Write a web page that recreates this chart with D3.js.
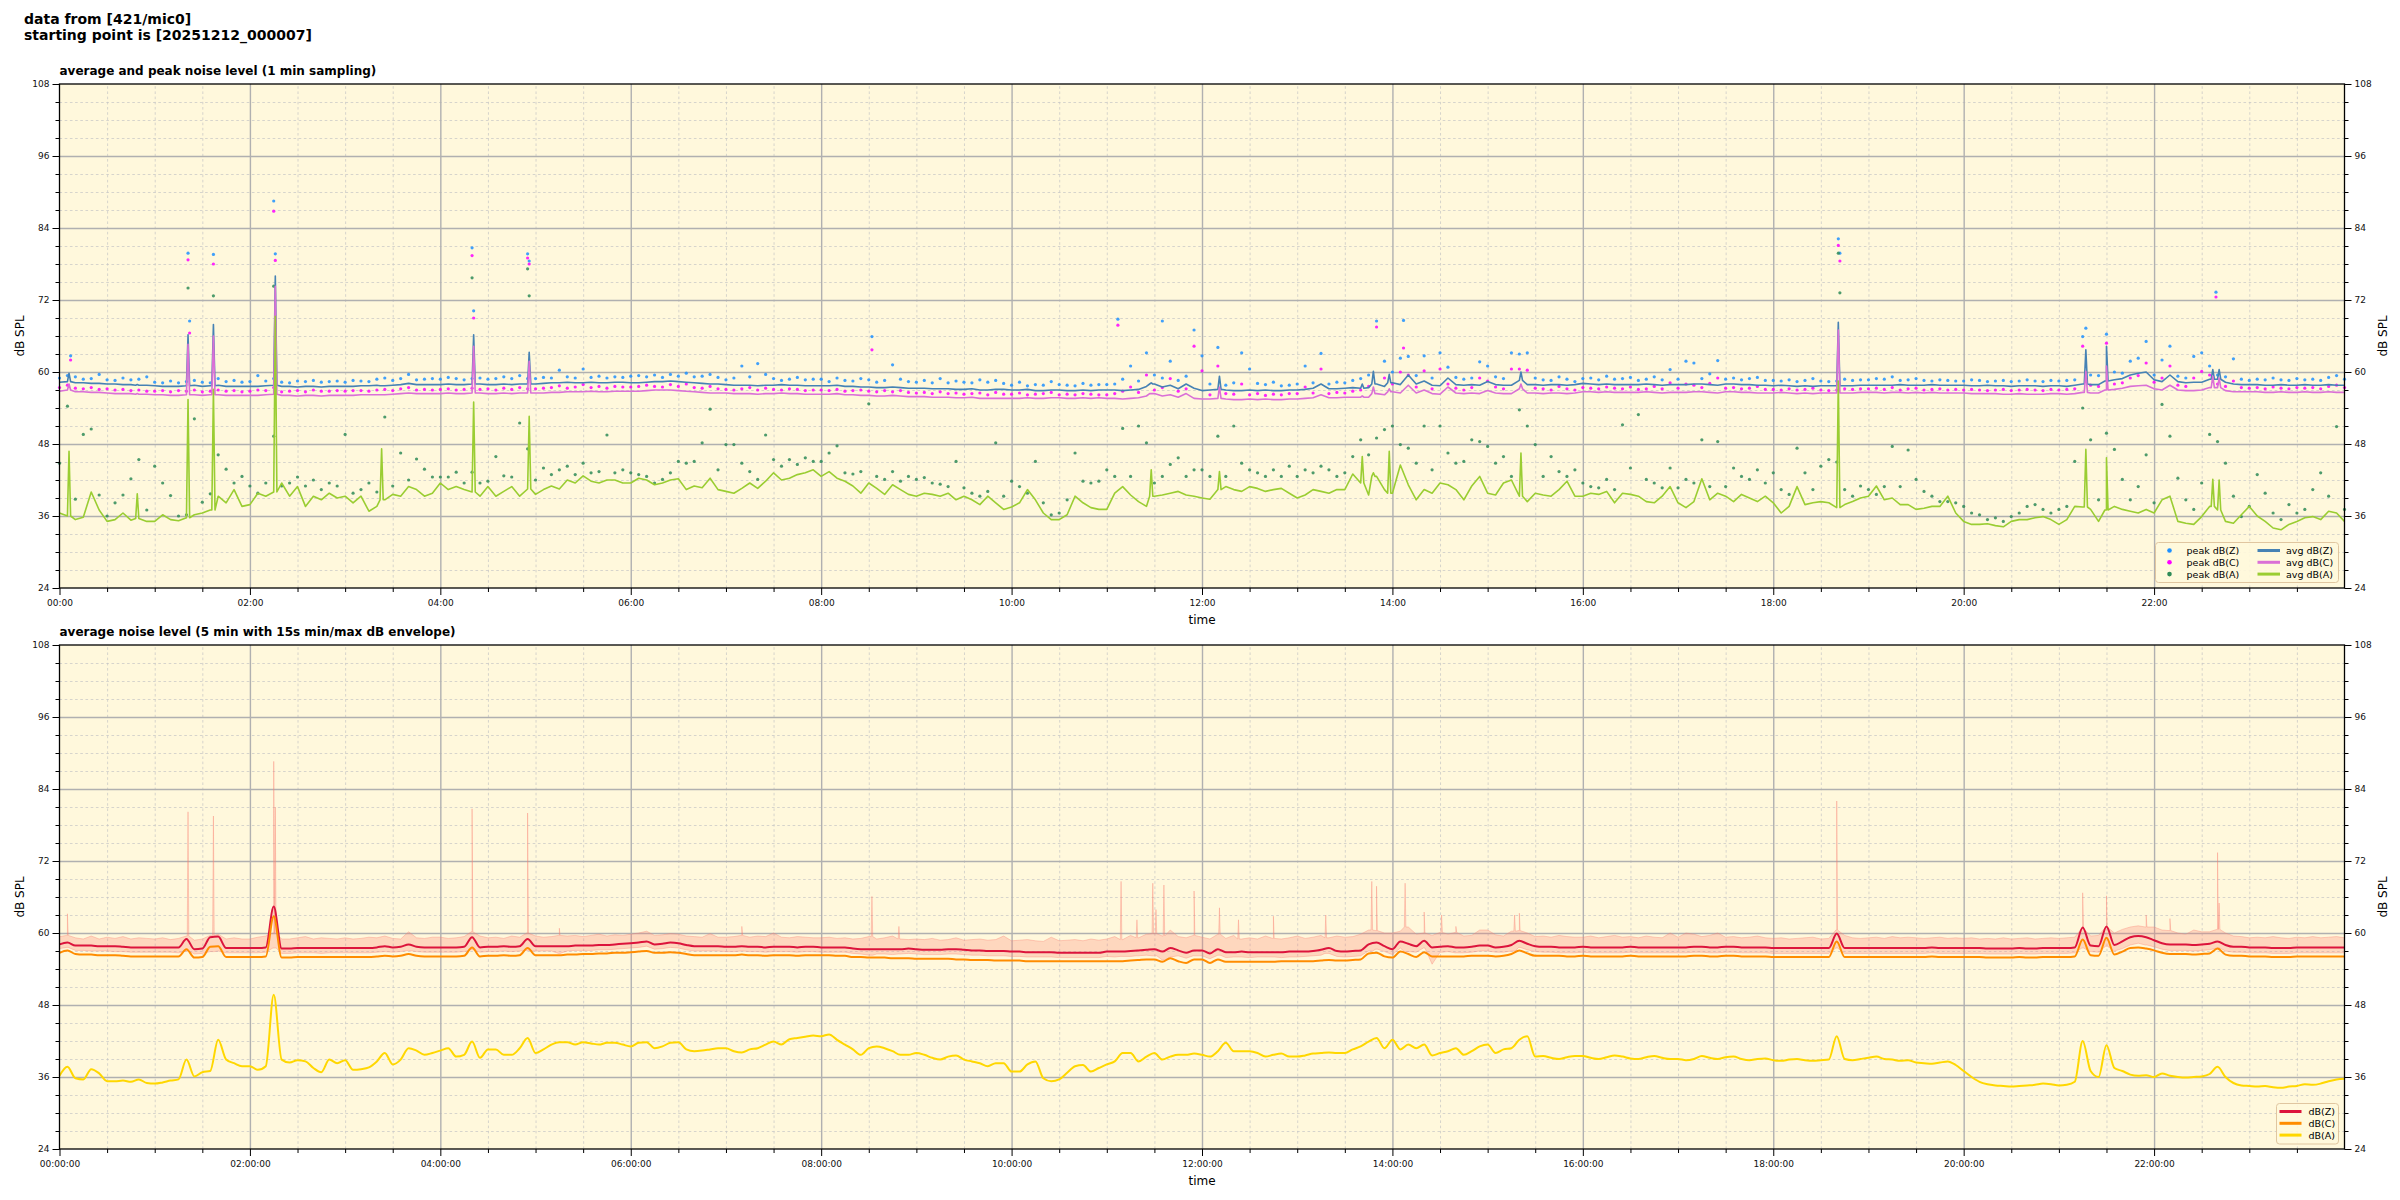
<!DOCTYPE html>
<html>
<head>
<meta charset="utf-8">
<script src="https://cdn.jsdelivr.net/npm/d3@7"></script>
<style>
body{margin:0;background:#fff}
text{font-family:"DejaVu Sans",sans-serif}
</style>
</head>
<body>
<svg id="fig" width="2400" height="1200"></svg>
<script>
// ---- top panel: 1 min data, kept here as 5 min readings (00:00 .. 24:00), one line per hour
var avgZ = [
58.3,58.4,58.2,58.2,58.1,58.1,58.0,58.0,57.9,57.9,57.8,57.8,
57.7,57.6,57.6,57.6,57.7,57.8,57.6,57.7,57.8,57.6,57.6,57.6,
57.6,57.6,57.7,57.8,57.6,57.6,57.5,57.6,57.6,57.5,57.6,57.6,
57.6,57.6,57.7,57.7,57.8,57.7,57.8,57.9,58.1,57.9,57.9,57.9,
57.9,58.0,57.9,57.9,58.0,58.0,57.9,57.9,58.0,57.9,58.0,58.0,
58.0,58.1,58.2,58.2,58.3,58.2,58.2,58.3,58.2,58.2,58.3,58.3,
58.2,58.2,58.3,58.4,58.4,58.5,58.4,58.3,58.2,58.1,58.0,58.0,
57.9,57.8,57.8,57.8,57.7,57.8,57.8,57.9,57.8,57.8,57.7,57.7,
57.7,57.7,57.8,57.6,57.6,57.5,57.5,57.4,57.4,57.5,57.4,57.3,
57.3,57.3,57.2,57.2,57.2,57.1,57.1,57.2,57.0,57.0,57.1,57.1,
57.0,57.0,57.1,56.9,56.9,57.0,57.0,56.9,56.9,57.0,56.9,57.0,
57.0,57.0,56.9,57.0,57.1,57.6,58.0,57.5,57.8,57.2,58.0,57.3,
56.9,57.0,57.1,57.0,56.9,56.9,57.0,56.9,57.0,56.9,56.9,57.0,
57.0,57.1,57.3,58.0,57.2,57.2,57.3,57.4,57.3,57.4,58.0,57.6,
58.2,57.9,59.5,58.0,58.5,57.8,57.7,59.0,57.9,57.8,57.9,57.8,
58.4,57.9,57.8,57.8,58.6,57.9,57.9,57.8,57.9,57.9,57.8,57.9,
58.1,58.0,57.9,58.0,57.9,57.9,57.9,57.9,58.0,57.9,57.8,57.9,
57.9,57.9,58.0,58.0,57.9,57.8,58.0,58.0,57.9,57.9,57.8,57.8,
57.7,57.8,57.7,57.6,57.7,57.6,57.7,57.7,57.7,57.7,57.7,57.8,
57.8,57.8,57.8,57.8,57.9,57.8,57.8,57.8,57.9,57.8,57.8,57.8,
57.8,57.7,57.7,57.8,57.7,57.7,57.6,57.7,57.7,57.7,57.6,57.7,
57.7,57.6,57.8,58.0,57.9,57.9,58.5,58.7,58.9,59.5,59.8,60.0,
58.7,58.4,59.5,58.4,58.2,58.3,58.3,58.8,58.8,58.3,58.0,57.9,
57.9,57.9,57.8,57.8,57.9,57.8,57.8,57.9,57.8,57.8,57.9,57.8,
57.8];

var avgC = [
56.8,57.0,56.7,56.7,56.6,56.6,56.5,56.4,56.4,56.4,56.3,56.3,
56.2,56.2,56.1,56.1,56.2,56.2,56.1,56.2,56.2,56.1,56.1,56.1,
56.1,56.1,56.2,56.3,56.1,56.1,56.0,56.1,56.1,56.0,56.1,56.1,
56.1,56.1,56.2,56.2,56.2,56.2,56.3,56.4,56.5,56.4,56.4,56.4,
56.4,56.5,56.4,56.4,56.5,56.5,56.4,56.4,56.5,56.4,56.5,56.5,
56.5,56.5,56.6,56.6,56.7,56.7,56.7,56.8,56.7,56.7,56.8,56.8,
56.8,56.8,56.9,57.0,57.0,57.0,56.9,56.8,56.7,56.6,56.5,56.5,
56.5,56.4,56.4,56.4,56.3,56.4,56.4,56.5,56.4,56.4,56.3,56.3,
56.3,56.3,56.4,56.2,56.2,56.1,56.1,56.0,56.0,56.1,56.0,55.9,
55.9,55.9,55.8,55.8,55.8,55.7,55.7,55.8,55.6,55.6,55.6,55.6,
55.6,55.6,55.7,55.6,55.6,55.7,55.7,55.6,55.6,55.7,55.6,55.7,
55.6,55.6,55.5,55.6,55.7,56.0,56.4,56.0,56.2,55.8,56.4,55.6,
55.5,55.5,55.6,55.5,55.4,55.4,55.5,55.4,55.5,55.4,55.4,55.5,
55.5,55.6,55.7,56.2,55.7,55.7,55.8,55.8,55.8,55.8,56.4,56.2,
56.7,56.5,57.8,56.5,57.0,56.4,56.3,57.5,56.5,56.4,56.5,56.4,
56.9,56.5,56.4,56.4,57.2,56.5,56.5,56.4,56.5,56.5,56.4,56.5,
56.7,56.7,56.6,56.7,56.6,56.6,56.6,56.6,56.7,56.6,56.5,56.6,
56.6,56.6,56.7,56.7,56.6,56.5,56.7,56.7,56.6,56.6,56.5,56.5,
56.5,56.6,56.5,56.4,56.5,56.4,56.5,56.5,56.5,56.5,56.5,56.6,
56.6,56.6,56.5,56.6,56.6,56.5,56.6,56.5,56.6,56.5,56.5,56.5,
56.5,56.4,56.4,56.4,56.4,56.3,56.3,56.4,56.3,56.3,56.3,56.4,
56.4,56.3,56.4,56.6,56.5,56.5,57.0,57.1,57.3,57.6,57.7,57.8,
57.2,57.0,57.8,57.0,56.9,56.9,57.0,57.4,57.4,56.9,56.7,56.7,
56.7,56.7,56.6,56.6,56.7,56.6,56.6,56.7,56.6,56.6,56.7,56.6,
56.6];

var avgA = [
36.5,36.0,35.4,35.8,40.0,37.0,35.1,35.4,36.5,35.3,35.6,35.1,
35.1,36.2,35.4,35.2,35.7,36.2,36.5,37.0,39.3,38.2,40.4,37.6,
37.9,39.8,39.3,40.0,41.5,39.3,40.9,37.6,39.3,38.7,39.8,39.0,
39.3,38.2,39.3,36.8,37.6,38.7,39.6,39.3,40.9,40.4,39.3,39.8,
41.5,40.4,40.9,40.4,40.0,39.3,40.9,39.3,40.1,40.9,39.3,40.5,
39.6,40.4,41.0,40.5,42.0,41.5,42.7,41.8,41.5,42.0,42.0,41.5,
41.5,42.3,42.0,41.2,41.5,42.0,42.2,40.4,41.0,40.7,42.3,40.4,
40.1,39.8,40.6,41.5,40.6,41.8,43.2,42.0,42.3,42.9,43.2,43.7,
42.6,43.4,42.3,41.8,41.0,39.8,41.5,40.6,39.6,41.2,40.4,39.6,
39.3,39.8,39.6,39.3,39.8,38.7,39.3,38.7,37.9,39.3,38.2,37.1,
37.5,38.2,40.4,38.7,36.5,35.4,35.4,36.2,39.3,38.2,37.4,37.1,
37.1,39.8,40.9,39.5,38.4,37.6,39.3,39.5,39.8,40.1,39.5,39.3,
39.0,38.8,40.4,40.9,40.4,40.1,40.9,40.6,40.1,40.4,40.6,39.8,
39.0,39.5,40.4,40.1,39.8,40.4,40.4,43.0,41.5,39.5,42.6,40.4,
39.8,44.5,41.2,38.7,40.4,39.8,41.5,41.2,40.4,38.7,41.0,42.6,
39.8,39.5,41.5,42.0,39.3,38.4,39.8,39.5,39.3,40.4,41.8,39.3,
39.3,39.8,39.6,40.1,38.2,39.8,39.6,39.3,38.4,38.2,39.3,40.9,
38.2,37.4,38.4,42.2,38.7,39.8,39.3,38.4,39.6,39.0,38.4,39.3,
38.2,36.5,37.6,40.9,37.9,38.2,38.4,38.2,37.4,37.9,38.4,39.0,
39.3,41.0,38.7,39.0,37.9,37.9,37.1,37.3,37.6,37.6,39.3,36.5,
35.1,34.6,34.6,34.7,34.4,34.2,35.1,35.4,35.4,35.7,35.9,35.4,
34.6,35.4,37.6,37.5,37.1,35.1,37.0,37.6,37.1,36.8,36.5,37.1,
36.5,38.7,39.3,35.1,34.8,34.6,35.9,37.6,37.0,35.1,34.8,36.2,
37.6,36.0,35.1,34.0,33.7,34.6,35.1,35.7,35.9,35.4,36.8,36.5,
35.1];

// one-minute spikes of the average lines
var spikeAt = ["00:06","00:49","01:21","01:37","02:16","03:23","04:21","04:56","11:28","12:11","13:41","13:48","13:58","15:21","18:41","21:17","21:30","22:37","22:41"];
var spikeZ  = [59.8,57.9,66.2,67.9,76.0,57.7,66.2,63.3,58.2,59.3,58.0,60.1,59.6,60.0,68.3,63.7,64.3,60.4,60.4];
var spikeC  = [58.0,56.4,64.6,66.0,74.3,56.2,64.3,61.8,56.4,57.5,56.0,57.5,57.2,58.0,67.0,60.1,61.0,59.3,59.0];
var spikeA  = [46.8,39.7,55.4,57.1,69.3,47.2,55.0,52.6,43.7,43.4,45.9,43.2,46.8,46.5,58.5,47.1,45.7,42.1,42.0];

var peakZ = [
59.0,59.4,59.2,58.8,58.9,59.6,58.7,58.6,59.0,58.7,58.8,59.2,
58.3,58.2,58.5,58.2,58.4,58.6,58.3,58.2,58.9,58.4,58.6,58.3,
58.4,59.4,58.5,58.9,58.3,58.2,58.5,58.4,58.6,58.3,58.4,58.5,
58.3,58.6,58.5,58.4,58.8,59.0,58.6,58.9,59.6,58.7,58.8,58.9,
58.8,59.1,58.9,58.7,58.9,59.0,58.8,58.9,59.2,58.9,59.4,58.9,
58.9,59.1,59.0,60.3,59.2,59.0,60.5,59.1,59.3,59.0,59.2,59.1,
59.3,59.4,59.2,59.5,59.1,59.6,59.3,59.8,59.2,59.3,59.6,59.1,
58.7,59.0,61.0,59.2,61.4,59.6,58.9,58.6,58.8,59.1,58.7,58.8,
58.8,58.4,59.0,58.6,58.5,58.9,58.7,58.3,58.6,61.2,58.8,58.4,
58.3,58.6,58.2,58.9,58.2,58.5,58.3,58.2,58.7,58.3,58.6,58.1,
57.8,58.3,57.7,57.9,57.8,58.4,57.9,57.8,57.7,58.1,57.8,57.9,
57.9,58.0,58.8,61.0,58.5,63.2,59.5,59.0,61.8,58.6,59.3,67.0,
62.7,58.0,64.1,57.8,58.2,63.2,60.5,58.1,57.9,58.3,57.7,57.8,
58.0,61.0,58.2,63.1,58.0,58.3,58.2,58.6,58.9,59.5,68.5,61.8,
60.0,62.3,62.6,59.4,62.7,59.0,63.2,60.8,59.1,58.8,59.0,61.7,
61.0,59.2,58.9,63.2,63.0,63.2,59.0,58.7,58.6,59.2,58.8,58.4,
58.9,59.0,58.7,59.3,58.8,58.9,59.1,58.6,58.8,59.2,58.7,60.4,
58.8,61.8,61.5,58.9,59.7,61.9,58.8,59.0,58.7,58.9,59.1,58.6,
58.6,58.5,58.7,58.4,58.6,58.9,58.5,58.4,58.5,58.8,58.6,58.7,
58.7,58.9,58.8,59.2,58.6,58.7,58.9,58.6,58.5,58.7,58.6,58.5,
58.5,58.7,58.6,58.4,58.5,58.6,58.4,58.5,58.7,58.5,58.4,58.6,
58.5,58.6,58.7,65.9,59.5,59.4,66.3,60.0,59.8,61.8,62.3,65.1,
59.5,62.0,64.3,59.3,59.0,62.6,63.2,61.0,59.5,59.2,62.2,58.8,
58.6,58.8,58.7,59.0,58.7,58.6,58.9,58.7,58.8,58.6,59.1,59.4,
58.8];

var peakC = [
57.4,57.8,57.3,57.2,57.4,57.1,57.2,57.0,57.1,56.9,57.0,56.8,
56.8,56.9,56.7,56.9,56.8,57.0,56.7,56.8,57.0,56.8,56.9,56.7,
56.8,57.0,56.9,57.4,56.7,56.8,56.9,56.7,57.0,56.8,56.8,56.9,
56.8,56.9,56.9,56.8,57.0,57.1,56.9,57.2,57.4,57.0,57.1,57.0,
57.1,57.2,57.0,57.1,57.3,57.1,57.2,57.0,57.3,57.1,57.4,57.2,
57.2,57.3,57.4,57.7,57.3,57.5,57.9,57.4,57.6,57.3,57.6,57.5,
57.5,57.6,57.8,57.6,57.5,57.9,57.6,58.0,57.4,57.3,57.6,57.2,
57.1,57.0,57.2,57.4,57.0,57.3,57.1,57.0,57.2,57.1,56.9,57.0,
57.0,56.9,57.1,56.8,56.9,57.0,56.8,56.7,56.9,56.7,56.9,56.6,
56.5,56.6,56.4,56.7,56.4,56.5,56.3,56.4,56.5,56.2,56.6,56.3,
56.3,56.5,56.2,56.3,56.4,56.6,56.2,56.3,56.2,56.4,56.3,56.2,
56.2,56.4,56.8,57.5,56.6,59.5,57.0,57.4,58.9,56.8,57.2,64.3,
60.2,56.2,61.0,56.4,56.3,58.0,56.2,56.4,56.1,56.3,56.2,56.4,
56.4,57.5,56.5,60.5,56.4,56.6,56.5,56.8,57.0,57.6,67.5,59.0,
58.0,60.0,59.5,57.5,60.2,57.2,60.5,58.0,57.3,57.0,57.4,59.0,
58.5,57.5,57.2,60.5,60.5,60.3,57.3,57.2,57.0,57.6,57.2,57.0,
57.4,57.3,57.2,57.5,57.3,57.2,57.5,57.1,57.2,57.6,57.2,58.2,
57.3,58.0,57.8,57.4,58.1,59.0,57.3,57.4,57.2,57.3,57.6,57.1,
57.1,57.0,57.2,57.0,57.1,57.3,57.0,56.9,57.0,57.2,57.1,57.2,
57.2,57.3,57.1,57.4,57.0,57.2,57.3,57.0,57.1,57.2,57.0,57.1,
57.0,57.1,57.0,56.9,57.0,57.1,56.9,57.0,57.1,57.0,56.9,57.1,
57.0,57.1,57.2,64.3,57.8,57.6,64.8,58.0,58.2,59.0,59.4,61.5,
58.3,59.0,61.0,57.8,57.6,59.0,60.1,59.5,58.0,57.6,58.5,57.4,
57.3,57.4,57.2,57.5,57.3,57.2,57.4,57.3,57.4,57.2,57.6,57.8,
57.4];

var peakA = [
44.8,54.3,38.8,49.6,50.5,39.5,36.0,38.2,39.5,42.2,45.4,37.0,
44.3,41.5,39.4,36.0,36.2,52.2,38.3,39.7,46.2,43.8,41.5,42.6,
41.0,39.8,41.5,49.3,41.0,41.5,42.5,41.0,42.0,40.4,41.5,41.0,
49.6,39.8,40.4,41.5,40.0,52.5,41.0,46.5,42.0,45.5,43.8,42.5,
42.5,42.5,43.3,41.5,43.3,41.5,41.8,45.9,42.7,42.5,51.5,47.2,
42.0,44.0,42.9,43.7,44.3,42.9,44.8,43.2,43.4,49.5,43.2,43.7,
43.2,42.9,42.6,41.5,42.1,43.2,45.1,44.8,45.1,48.2,53.8,43.7,
47.9,47.9,44.8,43.4,42.1,49.5,45.4,44.3,45.4,44.6,45.7,45.1,
45.1,46.5,47.7,43.2,43.0,43.4,54.7,42.6,42.1,43.4,41.8,42.6,
42.1,42.4,41.5,41.3,40.9,45.1,40.7,39.8,39.3,40.1,48.2,39.3,
41.8,40.9,39.8,45.1,38.2,36.2,36.5,38.7,46.5,41.8,41.5,41.8,
43.7,42.6,50.6,42.6,51.0,48.2,41.5,42.6,44.6,45.7,42.6,43.7,
43.7,42.6,49.3,42.6,51.0,44.8,43.7,43.2,42.6,43.7,42.6,44.3,
42.6,43.7,43.2,44.3,43.7,42.6,43.2,45.9,48.7,46.2,49.0,50.4,
51.0,47.9,47.3,44.8,51.0,43.7,51.0,46.5,44.8,45.1,48.7,48.4,
47.6,44.8,45.9,42.6,53.7,51.0,47.9,42.6,45.9,43.4,42.6,43.7,
41.5,40.9,40.7,42.1,40.4,51.2,44.0,52.9,42.1,41.5,40.7,44.0,
40.7,42.1,41.5,48.7,40.9,48.4,40.9,44.0,42.6,42.1,43.7,41.5,
43.2,40.4,39.6,47.3,43.2,40.4,44.3,45.4,45.0,40.4,39.3,41.0,
40.4,39.6,40.9,47.6,40.9,47.0,42.1,40.1,39.3,38.4,38.4,38.2,
37.6,36.5,36.2,35.4,35.7,35.1,35.9,36.5,37.6,37.9,37.1,36.5,
37.1,37.6,45.1,54.0,48.7,38.7,49.8,47.1,42.1,38.7,40.9,46.2,
38.2,54.6,49.3,42.3,38.7,37.1,41.5,49.6,48.4,44.8,39.3,35.9,
37.6,42.9,39.8,36.5,35.4,37.9,36.5,37.1,40.4,43.2,39.3,50.9,
37.1];

// single loud minutes of the peak readings (null = no separate dot)
var outAt = ["00:07","01:21","01:22","01:37","02:15","02:16","04:20","04:21","04:55","04:56","08:32","11:07","11:35","14:07","18:41","18:42","21:17","22:39"];
var outZ  = [62.7,79.8,68.5,79.6,88.5,79.7,80.7,70.2,79.7,78.5,65.9,68.8,68.5,68.6,82.2,79.8,67.3,73.3];
var outC  = [62.0,78.7,66.5,78.0,86.8,78.6,79.4,69.0,79.0,78.0,63.7,67.8,null,64.0,81.1,78.5,null,72.5];
var outA  = [null,74.0,null,72.7,74.3,61.0,75.7,null,77.2,72.7,null,null,null,null,79.8,73.2,null,null];

// ---- bottom panel: 5 min averages with 15 s min/max envelope
var lvlZ = [
58.1,58.4,57.9,57.9,57.9,57.8,57.8,57.8,57.7,57.6,57.6,57.6,
57.6,57.6,57.6,57.6,59.0,57.3,57.4,59.3,59.4,57.5,57.5,57.5,
57.5,57.5,57.6,64.4,57.4,57.4,57.5,57.5,57.5,57.5,57.5,57.5,
57.5,57.5,57.5,57.5,57.6,57.8,57.6,57.7,58.1,57.7,57.6,57.6,
57.6,57.6,57.6,57.7,59.3,57.6,57.7,57.7,57.8,57.7,57.8,59.0,
57.8,57.8,57.8,57.8,57.8,57.9,57.9,57.9,58.0,58.0,58.1,58.2,
58.3,58.4,58.6,58.1,58.2,58.4,58.3,58.0,57.8,57.8,57.8,57.8,
57.7,57.7,57.8,57.7,57.7,57.6,57.7,57.7,57.7,57.6,57.7,57.7,
57.6,57.6,57.6,57.6,57.4,57.3,57.3,57.3,57.3,57.3,57.3,57.4,
57.3,57.2,57.2,57.2,57.3,57.3,57.2,57.1,57.1,57.0,57.0,57.0,
56.9,56.9,56.8,56.8,56.8,56.8,56.7,56.7,56.7,56.7,56.7,56.7,
56.9,56.9,56.9,57.0,57.1,57.2,57.3,56.9,57.5,57.1,56.7,57.1,
57.1,56.6,57.3,56.8,56.8,56.9,56.8,56.8,56.8,56.8,56.8,56.9,
56.9,56.9,57.0,57.2,57.5,57.0,56.9,57.0,57.1,58.1,58.4,57.8,
57.3,58.6,58.2,57.8,58.7,57.6,57.7,57.8,57.6,57.6,57.7,57.9,
57.9,57.6,57.7,58.0,58.7,58.2,57.8,57.7,57.7,57.6,57.6,57.6,
57.7,57.6,57.6,57.6,57.6,57.6,57.7,57.6,57.6,57.6,57.6,57.6,
57.6,57.6,57.7,57.7,57.6,57.6,57.7,57.7,57.6,57.6,57.6,57.6,
57.5,57.5,57.5,57.5,57.5,57.5,57.5,57.5,59.9,57.5,57.5,57.5,
57.5,57.5,57.5,57.5,57.5,57.5,57.5,57.5,57.6,57.5,57.5,57.5,
57.5,57.5,57.5,57.4,57.4,57.4,57.4,57.5,57.4,57.4,57.5,57.5,
57.5,57.5,57.6,60.9,57.9,57.8,61.1,58.0,58.6,59.3,59.5,59.3,
58.8,58.3,58.1,58.1,58.1,58.0,58.1,58.2,58.6,58.0,57.7,57.7,
57.6,57.6,57.6,57.5,57.5,57.5,57.6,57.6,57.6,57.6,57.6,57.6,
57.6];

var lvlC = [
56.7,57.1,56.5,56.4,56.4,56.3,56.3,56.3,56.2,56.1,56.1,56.1,
56.1,56.1,56.1,56.1,57.3,55.9,56.0,57.7,57.8,56.0,56.0,56.0,
56.0,56.0,56.1,62.8,55.9,55.9,56.0,56.0,56.0,56.0,56.0,56.0,
56.0,56.0,56.0,56.0,56.1,56.2,56.1,56.2,56.5,56.2,56.1,56.1,
56.1,56.1,56.1,56.2,57.6,56.1,56.2,56.2,56.3,56.2,56.3,57.5,
56.3,56.3,56.3,56.3,56.4,56.4,56.5,56.5,56.6,56.6,56.7,56.7,
56.8,56.9,57.0,56.7,56.7,56.8,56.7,56.5,56.3,56.3,56.3,56.3,
56.3,56.3,56.4,56.3,56.3,56.2,56.3,56.3,56.3,56.2,56.3,56.3,
56.3,56.3,56.2,56.2,56.0,56.0,55.9,55.9,55.9,55.8,55.8,55.8,
55.7,55.7,55.7,55.7,55.7,55.6,55.6,55.5,55.5,55.5,55.4,55.4,
55.4,55.4,55.3,55.3,55.3,55.3,55.3,55.3,55.3,55.3,55.3,55.3,
55.3,55.3,55.3,55.4,55.5,55.6,55.6,55.2,55.8,55.3,55.0,55.6,
55.6,55.0,55.6,55.2,55.2,55.2,55.2,55.2,55.2,55.2,55.3,55.3,
55.3,55.3,55.3,55.4,55.5,55.4,55.4,55.5,55.6,56.6,56.7,56.1,
55.9,56.9,56.5,56.0,56.8,56.1,56.1,56.1,56.1,56.1,56.2,56.2,
56.2,56.1,56.2,56.5,57.1,56.6,56.2,56.2,56.2,56.2,56.1,56.1,
56.2,56.1,56.1,56.1,56.1,56.1,56.2,56.1,56.1,56.1,56.1,56.1,
56.1,56.1,56.2,56.2,56.1,56.1,56.2,56.2,56.1,56.1,56.1,56.1,
56.0,56.0,56.0,56.0,56.0,56.0,56.0,56.0,58.6,56.0,56.0,56.0,
56.0,56.0,56.0,56.0,56.0,56.0,56.0,56.0,56.1,56.0,56.0,56.0,
56.0,56.0,56.0,55.9,55.9,55.9,55.9,56.0,55.9,55.9,56.0,56.0,
56.0,56.0,56.1,58.9,56.3,56.2,59.2,56.4,56.9,57.5,57.6,57.4,
57.1,56.7,56.5,56.5,56.5,56.4,56.5,56.6,57.4,56.4,56.2,56.2,
56.1,56.1,56.1,56.0,56.0,56.0,56.1,56.1,56.1,56.1,56.1,56.1,
56.1];

var lvlA = [
36.2,37.7,35.8,35.6,37.3,36.6,35.3,35.3,35.4,35.2,35.6,35.0,
34.9,35.1,35.4,35.6,38.9,36.1,36.8,37.0,42.2,38.9,38.3,37.8,
37.8,37.2,37.8,49.7,38.9,38.4,38.8,38.6,37.5,36.8,38.9,38.3,
38.8,37.2,37.3,37.6,38.6,40.0,38.1,38.9,40.8,40.4,39.7,40.0,
40.4,40.8,39.4,39.7,41.9,39.2,40.6,40.6,39.7,39.7,40.8,42.5,
40.0,40.6,41.4,41.8,41.8,41.4,41.8,41.6,41.4,41.7,41.7,41.4,
41.1,41.7,41.8,40.8,41.1,41.7,41.8,40.6,40.3,40.4,40.6,40.8,
40.8,40.3,40.1,40.6,40.8,41.4,41.9,41.4,42.3,42.5,42.7,42.9,
42.8,43.1,42.2,41.4,40.6,39.7,40.8,41.1,40.8,40.3,39.7,39.7,
40.0,39.7,39.2,38.9,39.4,39.6,38.9,38.6,38.3,37.8,38.3,38.3,
36.9,36.9,38.1,38.6,35.8,35.3,35.6,36.7,37.8,38.0,36.9,37.5,
38.1,38.6,40.0,40.0,38.6,39.4,40.0,38.9,39.4,39.7,39.7,39.9,
39.7,39.4,40.3,41.7,40.3,40.3,40.3,40.0,39.4,39.7,39.9,39.4,
39.4,39.6,39.9,40.0,40.1,40.0,40.0,40.6,41.1,41.9,42.5,40.8,
42.2,40.6,41.4,40.8,41.4,39.6,40.0,40.3,40.8,39.7,40.3,41.1,
41.4,40.0,40.6,40.8,42.2,42.8,39.4,39.5,39.2,39.0,39.3,39.5,
39.5,39.2,39.0,39.3,39.6,39.4,39.1,39.0,39.3,39.5,39.2,39.0,
39.0,38.8,39.0,39.5,39.2,39.0,39.3,39.4,39.0,38.8,39.0,39.1,
38.8,38.7,38.9,39.0,38.8,38.7,38.8,38.9,42.8,39.0,38.8,39.0,
39.2,39.4,39.0,38.9,38.7,38.8,38.4,38.3,38.2,38.4,38.6,38.0,
37.0,36.0,35.2,34.8,34.6,34.5,34.4,34.5,34.6,34.7,34.9,34.8,
34.6,34.7,35.2,42.0,37.0,36.0,41.3,37.5,37.0,36.4,36.2,36.3,
36.0,36.6,36.2,36.0,35.9,36.0,36.1,36.5,37.7,36.0,35.0,34.6,
34.5,34.4,34.5,34.3,34.2,34.4,34.5,34.8,34.7,34.9,35.3,35.6,
35.7];

// 15 s envelope: upper / lower edge per 5 min, plus the short loud bursts
var envHi = [
59.4,59.6,59.2,59.0,59.5,59.0,59.3,59.1,59.4,59.0,59.2,59.1,
59.0,59.2,58.9,59.1,59.5,58.8,59.0,59.6,59.8,59.0,59.2,59.0,
59.0,59.3,59.5,60.0,59.0,59.0,59.2,59.4,59.0,59.2,59.1,59.0,
59.2,59.0,59.1,59.3,59.2,59.5,59.1,59.0,60.2,59.2,59.1,59.3,
59.3,59.1,59.2,59.4,60.2,59.5,59.2,59.3,59.1,59.5,59.3,60.0,
59.5,59.3,59.4,59.6,59.5,59.6,59.4,59.6,59.8,59.5,59.7,59.6,
59.8,60.0,60.3,59.6,59.7,59.9,59.8,59.5,59.4,59.3,59.9,59.3,
59.3,59.4,59.6,59.3,59.5,59.4,60.0,59.3,59.2,59.4,59.3,59.2,
59.2,59.3,59.1,59.2,59.0,59.1,59.4,59.0,59.2,59.5,59.0,58.9,
59.0,58.9,59.1,58.8,58.9,59.2,58.8,58.9,59.0,58.8,58.9,59.5,
58.7,58.8,58.9,58.7,58.6,59.3,58.7,58.8,58.9,58.7,59.0,58.8,
59.0,59.4,58.9,59.6,59.2,59.8,59.9,59.5,60.5,59.4,59.2,59.6,
59.3,59.0,59.8,59.1,59.6,59.0,59.2,59.0,59.5,59.1,59.0,59.2,
59.5,59.1,59.3,59.6,59.2,59.5,59.3,59.4,59.8,60.5,60.4,60.0,
60.0,60.3,61.0,59.8,60.0,59.6,60.1,59.8,60.1,59.5,59.6,60.5,
60.5,59.7,59.5,60.3,60.4,60.0,59.4,59.5,59.3,59.6,59.4,59.3,
59.3,59.5,59.2,59.4,59.6,59.3,59.4,59.2,59.5,59.3,59.2,60.0,
59.3,60.0,59.8,59.4,59.6,60.0,59.3,59.4,59.2,59.3,59.5,59.2,
59.1,59.2,59.0,59.1,59.2,59.3,59.0,59.1,60.5,59.6,59.2,59.1,
59.2,59.3,59.1,59.4,59.2,59.3,59.2,59.1,59.2,59.3,59.1,59.2,
59.1,59.2,59.0,59.1,59.0,59.2,59.0,59.1,59.2,59.0,59.1,59.2,
59.1,59.2,59.3,60.8,59.5,59.6,61.0,60.0,60.6,61.0,61.2,61.0,
61.0,60.5,60.4,60.0,59.8,60.5,60.2,60.2,60.6,60.0,59.5,59.4,
59.2,59.3,59.2,59.4,59.2,59.1,59.3,59.2,59.4,59.2,59.3,59.4,
59.2];

var envLo = [
57.4,57.6,57.1,57.1,57.0,57.0,57.0,56.9,56.9,56.8,56.8,56.8,
56.8,56.8,56.8,56.7,57.0,56.5,56.6,56.9,57.0,56.7,56.7,56.7,
56.7,56.7,56.8,57.5,56.6,56.6,56.7,56.7,56.7,56.6,56.7,56.7,
56.7,56.7,56.7,56.7,56.8,56.9,56.8,56.9,57.1,56.9,56.8,56.8,
56.8,56.8,56.8,56.9,57.2,56.8,56.9,56.9,57.0,56.9,57.0,57.1,
57.0,57.0,57.0,56.6,57.0,57.1,57.1,57.1,57.2,57.2,57.3,57.4,
57.5,57.6,57.8,57.3,57.4,57.6,57.5,57.2,57.0,57.0,57.0,57.0,
56.9,56.9,57.0,56.9,56.9,56.8,56.9,56.9,56.9,56.8,56.9,56.9,
56.8,56.8,56.8,56.8,56.6,56.5,56.3,56.5,56.5,56.4,56.5,56.6,
56.5,56.4,56.4,56.4,56.5,56.5,56.4,56.3,56.3,56.2,56.2,56.2,
56.1,56.1,56.0,56.0,56.0,56.0,55.9,55.9,55.9,55.9,55.9,55.9,
56.1,56.0,56.1,56.1,56.2,56.3,56.2,55.5,56.0,56.2,55.8,56.2,
56.2,55.7,56.3,55.9,56.0,56.0,55.9,56.0,56.0,56.0,55.9,56.0,
56.0,56.1,56.2,56.3,56.6,56.1,56.0,56.1,56.2,57.0,57.3,56.9,
56.4,57.5,56.9,56.8,57.5,54.8,56.8,56.9,56.7,56.7,56.8,57.0,
57.0,56.8,56.8,57.0,57.6,57.2,56.9,56.8,56.8,56.7,56.7,56.7,
56.8,56.7,56.7,56.7,56.7,56.7,56.8,56.7,56.7,56.7,56.7,56.7,
56.7,56.7,56.8,56.8,56.7,56.7,56.8,56.8,56.7,56.7,56.7,56.7,
56.6,56.6,56.6,56.6,56.6,56.6,56.6,56.6,57.5,56.6,56.6,56.6,
56.6,56.6,56.6,56.6,56.6,56.6,56.6,56.6,56.7,56.6,56.6,56.6,
56.6,56.6,56.6,56.5,56.5,56.5,56.5,56.6,56.5,56.5,56.6,56.6,
56.6,56.6,56.7,57.5,56.9,56.8,57.8,57.0,57.4,58.0,58.3,58.0,
57.7,57.3,57.1,57.1,57.1,57.0,57.1,57.2,57.5,57.0,56.8,56.8,
56.7,56.7,56.7,56.6,56.6,56.6,56.7,56.7,56.7,56.7,56.7,56.7,
56.7];

var burstAt = ["00:05","01:21","01:37","02:15","02:16","04:20","04:55","05:15","07:10","08:32","08:49","11:09","11:19","11:29","11:31","11:36","11:55","12:11","12:23","12:45","13:18","13:47","13:50","14:08","14:20","14:31","14:40","15:17","15:20","18:40","21:15","21:30","21:55","22:10","22:40","22:41"];
var burstHi = [63.2,80.2,79.5,88.6,81.0,80.7,80.0,60.8,61.1,66.1,61.1,68.6,62.2,68.3,63.9,68.0,67.0,64.2,62.2,62.8,63.0,68.6,67.8,68.3,63.5,63.0,61.1,63.0,63.3,82.0,66.7,66.2,63.0,62.4,73.4,65.0];

var yMajor = [24,36,48,60,72,84,96,108];
var topTitle = "average and peak noise level (1 min sampling)";
var botTitle = "average noise level (5 min with 15s min/max dB envelope)";

// ------------------------------------------------------------------
var svg = d3.select("#fig");
svg.append("rect").attr("width",2400).attr("height",1200).attr("fill","#fff");

var L = 59.5, R = 2344.5;
var day0 = new Date(2025,11,12,0,0,0);
function at(min){ return new Date(day0.getTime()+min*60000); }
function hm(s){ var p=s.split(":"); return (+p[0])*60 + (+p[1]); }

var X = d3.scaleTime().domain([at(0),at(1440)]).range([L,R]);
var majorT = d3.range(0,1440,120).map(at);
var minorT = d3.range(30,1440,30).filter(function(m){return m%120;}).map(at);
var yMinor = d3.range(27,108,3).filter(function(v){return v%12;});

var ff = "DejaVu Sans";

function panel(y0,y1,fmt,title){
	var Y = d3.scaleLinear().domain([24,108]).range([y1,y0]);
	var g = svg.append("g");
	g.append("rect").attr("x",L).attr("y",y0).attr("width",R-L).attr("height",y1-y0).attr("fill","#fff8dc");

	function grid(axis,tr,dashed){
		var a = g.append("g").attr("transform",tr).call(axis);
		a.select(".domain").remove();
		a.selectAll(".tick text").remove();
		a.selectAll(".tick line")
			.attr("stroke", dashed ? "#c4c4c4" : "#b0b0b0")
			.attr("stroke-width", dashed ? 0.7 : 1.4)
			.attr("stroke-dasharray", dashed ? "2.6,2.6" : null);
	}
	grid(d3.axisLeft(Y).tickValues(yMinor).tickSize(-(R-L)),"translate("+L+",0)",true);
	grid(d3.axisBottom(X).tickValues(minorT).tickSize(-(y1-y0)),"translate(0,"+y1+")",true);
	grid(d3.axisLeft(Y).tickValues([36,48,60,72,84,96]).tickSize(-(R-L)),"translate("+L+",0)",false);
	grid(d3.axisBottom(X).tickValues(majorT.slice(1)).tickSize(-(y1-y0)),"translate(0,"+y1+")",false);

	var data = svg.append("g");

	function ax(axis,tr){
		var a = svg.append("g").attr("transform",tr).call(axis)
			.attr("font-family",ff).attr("font-size",9);
		a.select(".domain").remove();
		a.selectAll(".tick line").attr("stroke","#000");
		a.selectAll(".tick text").attr("fill","#111");
		return a;
	}
	ax(d3.axisLeft(Y).tickValues(yMajor).tickSize(7).tickPadding(3).tickFormat(d3.format("d")),"translate("+L+",0)");
	ax(d3.axisLeft(Y).tickValues(yMinor).tickSize(4).tickFormat(""),"translate("+L+",0)");
	ax(d3.axisRight(Y).tickValues(yMajor).tickSize(7).tickPadding(3).tickFormat(d3.format("d")),"translate("+R+",0)");
	ax(d3.axisRight(Y).tickValues(yMinor).tickSize(4).tickFormat(""),"translate("+R+",0)");
	ax(d3.axisBottom(X).tickValues(majorT).tickSize(7).tickPadding(5).tickFormat(d3.timeFormat(fmt)),"translate(0,"+y1+")");
	ax(d3.axisBottom(X).tickValues(minorT).tickSize(4).tickFormat(""),"translate(0,"+y1+")");

	var ym = (y0+y1)/2;
	svg.append("text").attr("transform","translate(24,"+ym+") rotate(-90)").attr("text-anchor","middle")
		.attr("font-family",ff).attr("font-size",12).text("dB SPL");
	svg.append("text").attr("transform","translate(2387,"+ym+") rotate(-90)").attr("text-anchor","middle")
		.attr("font-family",ff).attr("font-size",12).text("dB SPL");
	svg.append("text").attr("x",(L+R)/2).attr("y",y1+36).attr("text-anchor","middle")
		.attr("font-family",ff).attr("font-size",12).text("time");
	svg.append("text").attr("x",L).attr("y",y0-9.5)
		.attr("font-family",ff).attr("font-size",12).attr("font-weight","bold").text(title);

	return {Y:Y, data:data, y0:y0, y1:y1};
}

// suptitle
svg.append("text").attr("x",24).attr("y",23.5).attr("font-family",ff).attr("font-size",14).attr("font-weight","bold").text("data from [421/mic0]");
svg.append("text").attr("x",24).attr("y",39.5).attr("font-family",ff).attr("font-size",14).attr("font-weight","bold").text("starting point is [20251212_000007]");

// ---------------- top panel
var P1 = panel(84,588,"%H:%M",topTitle);
var Y1 = P1.Y;

function dots(arr,color){
	var pts = arr.map(function(v,i){return {m:i*5,v:v};});
	P1.data.append("g").selectAll("circle").data(pts).enter().append("circle")
		.attr("cx",function(d){return X(at(d.m));})
		.attr("cy",function(d){return Y1(d.v);})
		.attr("r",1.6).attr("fill",color).attr("fill-opacity",0.85);
}
function outDots(arr,color){
	var pts = [];
	arr.forEach(function(v,j){ if(v!==null) pts.push({m:hm(outAt[j]),v:v}); });
	P1.data.append("g").selectAll("circle").data(pts).enter().append("circle")
		.attr("cx",function(d){return X(at(d.m));})
		.attr("cy",function(d){return Y1(d.v);})
		.attr("r",1.6).attr("fill",color).attr("fill-opacity",0.85);
}
dots(peakZ,"#1e90ff"); outDots(outZ,"#1e90ff");
dots(peakC,"#ff00ff"); outDots(outC,"#ff00ff");
dots(peakA,"#2e8b57"); outDots(outA,"#2e8b57");

// average line = 5 min readings plus the one-minute spikes (shoulders at the neighbouring reading)
function withSpikes(base,sp){
	var pts = base.map(function(v,i){return {m:i*5,v:v};});
	spikeAt.forEach(function(s,j){
		var m = hm(s), near = base[Math.round(m/5)];
		pts.push({m:m-1,v:near},{m:m,v:sp[j]},{m:m+1,v:near});
	});
	return pts.sort(function(a,b){return a.m-b.m;});
}
var line1 = d3.line().x(function(d){return X(at(d.m));}).y(function(d){return Y1(d.v);});
[[avgZ,spikeZ,"#4682b4"],[avgC,spikeC,"#da70d6"],[avgA,spikeA,"#9acd32"]].forEach(function(s){
	P1.data.append("path").attr("d",line1(withSpikes(s[0],s[1])))
		.attr("fill","none").attr("stroke",s[2]).attr("stroke-width",1.6).attr("stroke-linejoin","round");
});

// ---------------- bottom panel
var P2 = panel(645,1149,"%H:%M:%S",botTitle);
var Y2 = P2.Y;
var envPts = envHi.map(function(v,i){return {m:i*5,hi:v,lo:envLo[i]};});
burstAt.forEach(function(s,j){
	var m = hm(s), k = Math.round(m/5);
	envPts.push({m:m-0.5,hi:envHi[k],lo:envLo[k]},{m:m,hi:burstHi[j],lo:envLo[k]},{m:m+0.5,hi:envHi[k],lo:envLo[k]});
});
envPts.sort(function(a,b){return a.m-b.m;});
var env = d3.area().x(function(d){return X(at(d.m));}).y0(function(d){return Y2(d.lo);}).y1(function(d){return Y2(d.hi);});
P2.data.append("path").attr("d",env(envPts)).attr("fill","#fa8072").attr("fill-opacity",0.28)
	.attr("stroke","#fa8072").attr("stroke-opacity",0.45).attr("stroke-width",0.8);
var line2 = d3.line().x(function(d,i){return X(at(i*5));}).y(function(d){return Y2(d);}).curve(d3.curveMonotoneX);
[[lvlZ,"#dc143c"],[lvlC,"#ff8c00"],[lvlA,"#ffd700"]].forEach(function(s){
	P2.data.append("path").attr("d",line2(s[0])).attr("fill","none").attr("stroke",s[1]).attr("stroke-width",2).attr("stroke-linejoin","round");
});

// spines
[P1,P2].forEach(function(p){
	svg.append("rect").attr("x",L).attr("y",p.y0).attr("width",R-L).attr("height",p.y1-p.y0)
		.attr("fill","none").attr("stroke","#000").attr("stroke-width",1.3);
});

// ---------------- legends
function legendBox(x,y,w,h){
	svg.append("rect").attr("x",x).attr("y",y).attr("width",w).attr("height",h).attr("rx",3)
		.attr("fill","#fff8dc").attr("fill-opacity",0.9).attr("stroke","#e0c6a0").attr("stroke-width",1);
}
var lg1 = [["peak dB(Z)","#1e90ff","avg dB(Z)","#4682b4"],["peak dB(C)","#ff00ff","avg dB(C)","#da70d6"],["peak dB(A)","#2e8b57","avg dB(A)","#9acd32"]];
legendBox(2155.5,542.5,183,40);
lg1.forEach(function(r,i){
	var yy = 550.5+i*11.8;
	svg.append("circle").attr("cx",2169.5).attr("cy",yy).attr("r",2.3).attr("fill",r[1]);
	svg.append("text").attr("x",2186.5).attr("y",yy+3.4).attr("font-family",ff).attr("font-size",9.5).text(r[0]);
	svg.append("line").attr("x1",2257.5).attr("x2",2280).attr("y1",yy).attr("y2",yy).attr("stroke",r[3]).attr("stroke-width",3);
	svg.append("text").attr("x",2286).attr("y",yy+3.4).attr("font-family",ff).attr("font-size",9.5).text(r[2]);
});
var lg2 = [["dB(Z)","#dc143c"],["dB(C)","#ff8c00"],["dB(A)","#ffd700"]];
legendBox(2276.5,1103.5,62,40.5);
lg2.forEach(function(r,i){
	var yy = 1111.5+i*11.8;
	svg.append("line").attr("x1",2279.5).attr("x2",2301.5).attr("y1",yy).attr("y2",yy).attr("stroke",r[1]).attr("stroke-width",3);
	svg.append("text").attr("x",2308.5).attr("y",yy+3.4).attr("font-family",ff).attr("font-size",9.5).text(r[0]);
});
</script>
</body>
</html>
